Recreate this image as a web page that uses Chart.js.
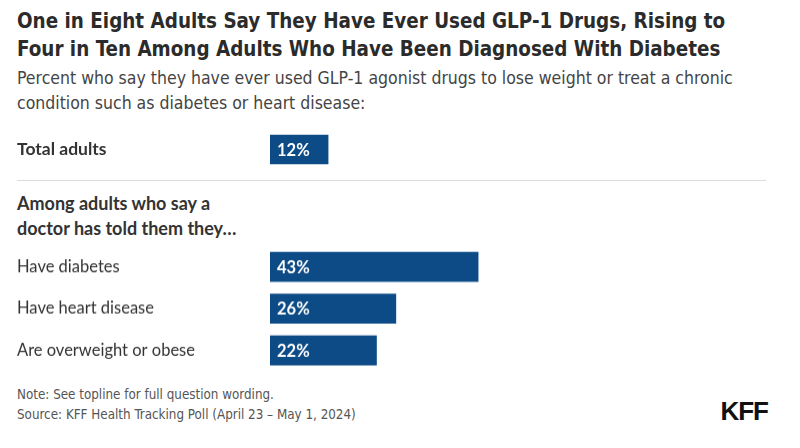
<!DOCTYPE html>
<html>
<head>
<meta charset="utf-8">
<script src="https://cdn.jsdelivr.net/npm/chart.js@4.4.1/dist/chart.umd.min.js"></script>
<style>
  html, body { margin: 0; padding: 0; background: #fff; }
  body { width: 800px; height: 448px; position: relative; overflow: hidden; color: #333; }
  .narrow { font-family: "Liberation Sans Narrow", "DejaVu Sans Condensed", "Roboto", sans-serif; }
  #title { position: absolute; left: 17px; top: 7px; font-size: 22px; line-height: 28px; font-weight: bold; color: #2b2b2b; white-space: nowrap; transform: scaleX(0.928); transform-origin: left top; }
  #subtitle { position: absolute; left: 17px; top: 66px; font-size: 17.5px; line-height: 25px; color: #444; white-space: nowrap; }
  #sep { position: absolute; left: 17px; top: 180px; width: 749px; height: 1px; background: #dcdcdc; }
  #group { position: absolute; left: 17px; top: 191px; font-family: "Lato", sans-serif; font-weight: bold; font-size: 18px; line-height: 25px; color: #333; }
  #notes { position: absolute; left: 17px; top: 384px; font-size: 13.5px; line-height: 20px; color: #555; white-space: nowrap; transform: scaleX(0.985); transform-origin: left top; }
  #logo { position: absolute; right: 32px; top: 396px; font-family: "Liberation Sans", "Lato", sans-serif; font-weight: bold; font-size: 26px; line-height: 30px; color: #111; letter-spacing: -1px; }
  .box { position: absolute; left: 0; width: 800px; }
  /* boxes are taller than the plot by the y tick label padding (half a label line each side) */
  #box1 { top: 117.5px; height: 63px; }
  #box2 { top: 236.4px; height: 144.3px; }
</style>
</head>
<body>
<div id="title" class="narrow">One in Eight Adults Say They Have Ever Used GLP-1 Drugs, Rising to<br>Four in Ten Among Adults Who Have Been Diagnosed With Diabetes</div>
<div id="subtitle" class="narrow">Percent who say they have ever used GLP-1 agonist drugs to lose weight or treat a chronic<br>condition such as diabetes or heart disease:</div>
<div class="box" id="box1"><canvas id="totalChart"></canvas></div>
<div id="sep"></div>
<div id="group">Among adults who say a<br>doctor has told them they…</div>
<div class="box" id="box2"><canvas id="groupChart"></canvas></div>
<div id="notes" class="narrow">Note: See topline for full question wording.<br>Source: KFF Health Tracking Poll (April 23 – May 1, 2024)</div>
<div id="logo">KFF</div>

<script>
// Data
const totalLabels = ["Total adults"];
const totalValues = [12];
const groupLabels = ["Have diabetes", "Have heart disease", "Are overweight or obese"];
const groupValues = [43, 26, 22];

const barColor = "#0d4b86";

// Writes the percent inside each bar, near its left end
const valueLabels = {
    id: "valueLabels",
    afterDatasetsDraw(chart) {
        const ctx = chart.ctx;
        const meta = chart.getDatasetMeta(0);
        ctx.save();
        ctx.fillStyle = "#ffffff";
        ctx.font = "bold 16.5px Lato, sans-serif";
        ctx.textBaseline = "middle";
        ctx.textAlign = "left";
        meta.data.forEach((bar, i) => {
            const v = chart.data.datasets[0].data[i];
            ctx.fillText(v + "%", chart.chartArea.left + 7, bar.y + 1);
        });
        ctx.restore();
    }
};

function makeChart(id, labels, values, bold) {
    return new Chart(document.getElementById(id), {
        type: "bar",
        data: {
            labels: labels,
            datasets: [{
                data: values,
                backgroundColor: barColor,
                borderWidth: 0,
                barThickness: 29
            }]
        },
        options: {
            indexAxis: "y",
            responsive: true,
            maintainAspectRatio: false,
            animation: false,
            layout: { padding: { left: 17, right: 46, top: 0, bottom: 0 } },
            plugins: {
                legend: { display: false },
                tooltip: { enabled: false }
            },
            scales: {
                x: {
                    display: false,
                    min: 0,
                    max: 100
                },
                y: {
                    grid: { display: false },
                    border: { display: false },
                    afterFit: (scale) => { scale.width = 253; },
                    ticks: {
                        crossAlign: "far",
                        color: "#333",
                        padding: 0,
                        font: bold
                            ? { family: "Lato", size: 17.5, weight: "bold" }
                            : { family: "Lato", size: 16.5, weight: "normal" }
                    }
                }
            }
        },
        plugins: [valueLabels]
    });
}

makeChart("totalChart", totalLabels, totalValues, true);
makeChart("groupChart", groupLabels, groupValues, false);
</script>
</body>
</html>
